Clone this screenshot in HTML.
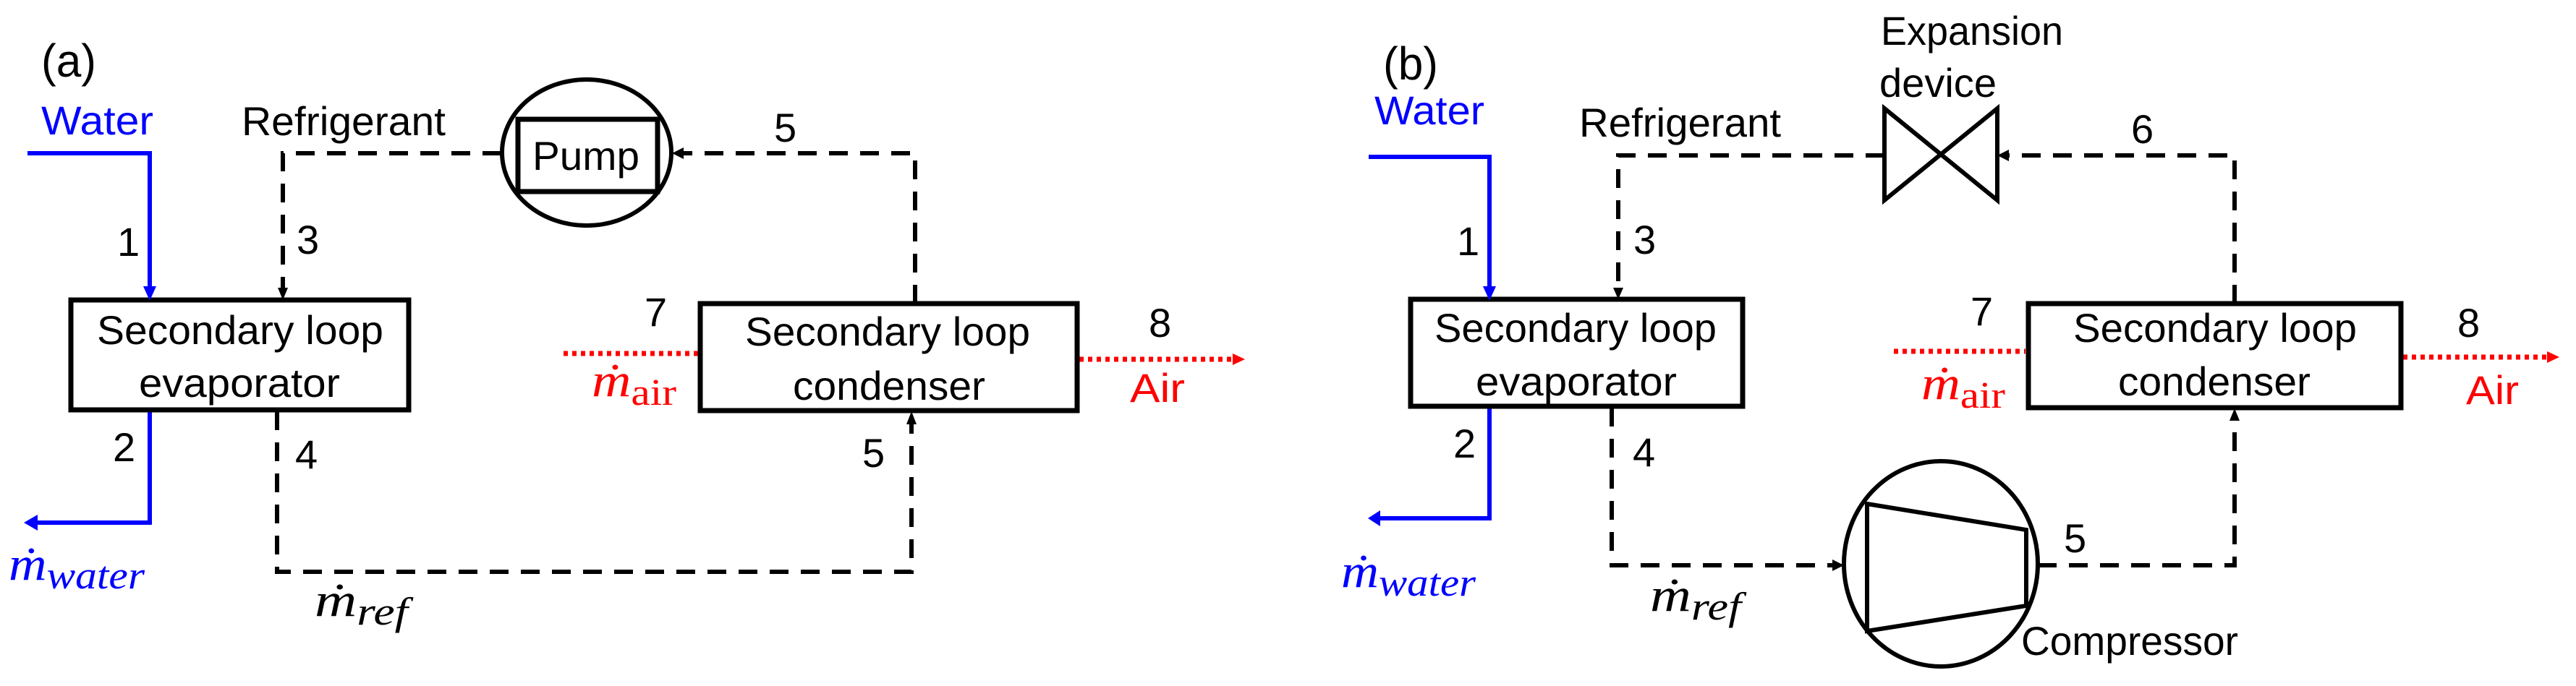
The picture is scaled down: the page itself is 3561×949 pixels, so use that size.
<!DOCTYPE html>
<html><head><meta charset="utf-8"><style>
html,body{margin:0;padding:0;background:#fff;}
svg{display:block;}
text{font-family:"Liberation Sans",sans-serif;}
.m{font-family:"Liberation Serif",serif;font-style:italic;}
</style></head><body>
<svg width="3561" height="949" viewBox="0 0 3561 949" xmlns="http://www.w3.org/2000/svg">
<rect width="3561" height="949" fill="#fff"/>
<g fill="none" stroke-linejoin="miter">
<polyline points="38,212 207,212 207,398" stroke="#0000ff" stroke-width="6"/>
<polyline points="207,566 207,723 50,723" stroke="#0000ff" stroke-width="6"/>
<polyline points="693,212 391,212 391,400" stroke="#000" stroke-width="6" stroke-dasharray="26 17"/>
<polyline points="1265,420 1265,212 945,212" stroke="#000" stroke-width="6" stroke-dasharray="26 17"/>
<polyline points="383,569 383,791 1260,791 1260,585" stroke="#000" stroke-width="6" stroke-dasharray="26 17"/>
<line x1="779" y1="489" x2="966" y2="489" stroke="#ff0000" stroke-width="7" stroke-dasharray="6 6"/>
<line x1="1492" y1="497" x2="1706" y2="497" stroke="#ff0000" stroke-width="7" stroke-dasharray="6 6"/>
<rect x="98" y="415" width="467" height="152" stroke="#000" stroke-width="7"/>
<rect x="968" y="420" width="521" height="148" stroke="#000" stroke-width="7"/>
<ellipse cx="811" cy="211" rx="117" ry="101" stroke="#000" stroke-width="6" fill="#fff"/>
<rect x="716" y="165" width="193" height="100" stroke="#000" stroke-width="7"/>
<polyline points="1892,217 2059,217 2059,396" stroke="#0000ff" stroke-width="6"/>
<polyline points="2059,562 2059,717 1906,717" stroke="#0000ff" stroke-width="6"/>
<polyline points="2605,215 2237,215 2237,398" stroke="#000" stroke-width="6" stroke-dasharray="26 17"/>
<polyline points="3089,420 3089,215 2777,215" stroke="#000" stroke-width="6" stroke-dasharray="26 17"/>
<polyline points="2228,564 2228,782 2533,782" stroke="#000" stroke-width="6" stroke-dasharray="26 17"/>
<polyline points="2817,782 3089,782 3089,580" stroke="#000" stroke-width="6" stroke-dasharray="26 17"/>
<line x1="2618" y1="486" x2="2800" y2="486" stroke="#ff0000" stroke-width="7" stroke-dasharray="6 6"/>
<line x1="3322" y1="494" x2="3522" y2="494" stroke="#ff0000" stroke-width="7" stroke-dasharray="6 6"/>
<rect x="1950" y="414" width="459" height="148" stroke="#000" stroke-width="7"/>
<rect x="2804" y="420" width="515" height="144" stroke="#000" stroke-width="7"/>
<polygon points="2605,150 2761,277 2761,150 2605,277" stroke="#000" stroke-width="6"/>
<ellipse cx="2683" cy="780" rx="134" ry="142" stroke="#000" stroke-width="6"/>
<polygon points="2581,697 2801,733 2801,838 2581,873" stroke="#000" stroke-width="6"/>
</g>
<g>
<polygon points="198,396 216,396 207,416" fill="#0000ff"/>
<polygon points="52,712 52,734 33,723" fill="#0000ff"/>
<polygon points="384,398 398,398 391,415" fill="#000"/>
<polygon points="945,204 945,220 929,212" fill="#000"/>
<polygon points="1253,587 1267,587 1260,569" fill="#000"/>
<polygon points="1704,489 1704,505 1721,497" fill="#ff0000"/>
<polygon points="2050,396 2068,396 2059,416" fill="#0000ff"/>
<polygon points="1908,706 1908,728 1891,717" fill="#0000ff"/>
<polygon points="2230,398 2244,398 2237,414" fill="#000"/>
<polygon points="2777,207 2777,223 2761,215" fill="#000"/>
<polygon points="2533,774 2533,790 2549,782" fill="#000"/>
<polygon points="3082,582 3096,582 3089,565" fill="#000"/>
<polygon points="3521,486 3521,502 3538,494" fill="#ff0000"/>
</g>
<g font-size="56" fill="#000">
<text x="57" y="106" font-size="64" textLength="76" lengthAdjust="spacingAndGlyphs">(a)</text>
<text x="57" y="186" fill="#0000ff" textLength="155" lengthAdjust="spacingAndGlyphs">Water</text>
<text x="334" y="187" textLength="282" lengthAdjust="spacingAndGlyphs">Refrigerant</text>
<text x="736" y="235" textLength="148" lengthAdjust="spacingAndGlyphs">Pump</text>
<text x="134" y="476" textLength="396" lengthAdjust="spacingAndGlyphs">Secondary loop</text>
<text x="192" y="549" textLength="278" lengthAdjust="spacingAndGlyphs">evaporator</text>
<text x="1030" y="478" textLength="394" lengthAdjust="spacingAndGlyphs">Secondary loop</text>
<text x="1096" y="553" textLength="266" lengthAdjust="spacingAndGlyphs">condenser</text>
<text x="1562" y="556" fill="#ff0000" textLength="76" lengthAdjust="spacingAndGlyphs">Air</text>
<text x="162" y="354">1</text>
<text x="410" y="351">3</text>
<text x="1070" y="196">5</text>
<text x="891" y="451">7</text>
<text x="1588" y="466">8</text>
<text x="156" y="638">2</text>
<text x="408" y="648">4</text>
<text x="1192" y="646">5</text>
</g>
<text class="m" x="818" y="548" font-size="66" fill="#ff0000" textLength="117" lengthAdjust="spacingAndGlyphs">ṁ<tspan font-style="normal" font-size="52" dy="12">air</tspan></text>
<text class="m" x="12" y="802" font-size="66" fill="#0000ff" textLength="188" lengthAdjust="spacingAndGlyphs">ṁ<tspan font-size="54" dy="12">water</tspan></text>
<text class="m" x="435" y="852" font-size="66" fill="#000" textLength="129" lengthAdjust="spacingAndGlyphs">ṁ<tspan font-size="54" dy="12">ref</tspan></text>
<g font-size="56" fill="#000">
<text x="1912" y="110" font-size="64" textLength="76" lengthAdjust="spacingAndGlyphs">(b)</text>
<text x="1900" y="172" fill="#0000ff" textLength="152" lengthAdjust="spacingAndGlyphs">Water</text>
<text x="2183" y="189" textLength="279" lengthAdjust="spacingAndGlyphs">Refrigerant</text>
<text x="2600" y="62" textLength="252" lengthAdjust="spacingAndGlyphs">Expansion</text>
<text x="2598" y="134" textLength="162" lengthAdjust="spacingAndGlyphs">device</text>
<text x="1983" y="473" textLength="390" lengthAdjust="spacingAndGlyphs">Secondary loop</text>
<text x="2040" y="547" textLength="278" lengthAdjust="spacingAndGlyphs">evaporator</text>
<text x="2866" y="473" textLength="392" lengthAdjust="spacingAndGlyphs">Secondary loop</text>
<text x="2928" y="547" textLength="266" lengthAdjust="spacingAndGlyphs">condenser</text>
<text x="3409" y="559" fill="#ff0000" textLength="73" lengthAdjust="spacingAndGlyphs">Air</text>
<text x="2794" y="906" textLength="300" lengthAdjust="spacingAndGlyphs">Compressor</text>
<text x="2014" y="353">1</text>
<text x="2258" y="351">3</text>
<text x="2946" y="198">6</text>
<text x="2724" y="450">7</text>
<text x="3397" y="466">8</text>
<text x="2009" y="633">2</text>
<text x="2257" y="645">4</text>
<text x="2853" y="764">5</text>
</g>
<text class="m" x="2656" y="552" font-size="66" fill="#ff0000" textLength="116" lengthAdjust="spacingAndGlyphs">ṁ<tspan font-style="normal" font-size="52" dy="12">air</tspan></text>
<text class="m" x="1854" y="812" font-size="66" fill="#0000ff" textLength="186" lengthAdjust="spacingAndGlyphs">ṁ<tspan font-size="54" dy="12">water</tspan></text>
<text class="m" x="2281" y="845" font-size="66" fill="#000" textLength="126" lengthAdjust="spacingAndGlyphs">ṁ<tspan font-size="54" dy="12">ref</tspan></text>
</svg>
</body></html>
